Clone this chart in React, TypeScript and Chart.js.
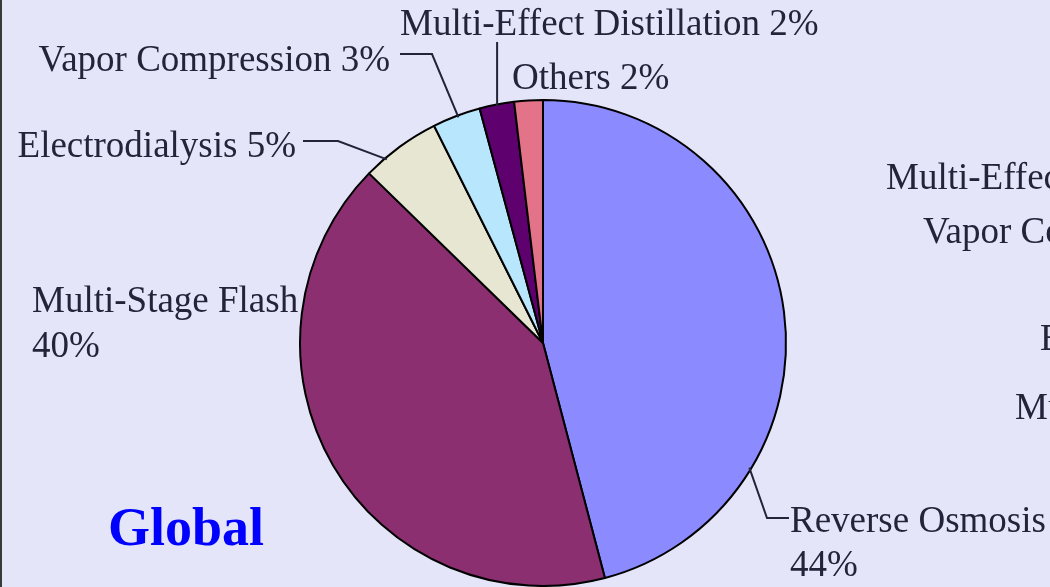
import React, { useEffect, useRef } from "react";
import { Chart, registerables } from "chart.js";

Chart.register(...registerables);

const categories = [
  "Reverse Osmosis",
  "Multi-Stage Flash",
  "Electrodialysis",
  "Vapor Compression",
  "Multi-Effect Distillation",
  "Others",
];
const shares = [45.9, 41.4, 5.3, 3.2, 2.3, 1.9];
const shareLabels = ["44%", "40%", "5%", "3%", "2%", "2%"];
const sliceColors = ["#8B8BFF", "#8B2F70", "#E6E6D2", "#B8E6FC", "#5E006E", "#E37388"];
const otherChartLabels = [
  "Multi-Effect Distillation",
  "Vapor Compression",
  "Electrodialysis",
  "Multi-Stage Flash",
];
const regionTitle = "Global";

const TEXT = "#23233a";
const FONT = '37px "Liberation Serif", "Times New Roman", serif';

const labelPlugin = {
  id: "labels",
  beforeDraw(chart: any) {
    const ctx = chart.ctx;
    ctx.save();
    ctx.fillStyle = "#E5E5FA";
    ctx.fillRect(0, 0, chart.width, chart.height);
    ctx.fillStyle = "#3a3a3a";
    ctx.fillRect(0, 0, 2, chart.height);
    ctx.restore();
  },
  afterDraw(chart: any) {
    const ctx = chart.ctx;
    const arcs = chart.getDatasetMeta(0).data;
    const anchor = (i: number, f: number) => {
      const a = arcs[i];
      const ang = a.startAngle + (a.endAngle - a.startAngle) * f;
      const r = a.outerRadius - 2;
      return [a.x + Math.cos(ang) * r, a.y + Math.sin(ang) * r];
    };
    ctx.save();
    ctx.strokeStyle = TEXT;
    ctx.lineWidth = 2;
    const poly = (pts: number[][]) => {
      ctx.beginPath();
      ctx.moveTo(pts[0][0], pts[0][1]);
      for (let k = 1; k < pts.length; k++) ctx.lineTo(pts[k][0], pts[k][1]);
      ctx.stroke();
    };
    poly([anchor(0, 0.733), [767, 518], [789, 518]]);
    poly([anchor(2, 0.28), [338, 141], [303, 141]]);
    poly([anchor(3, 0.53), [432, 54], [400, 54]]);
    const m = anchor(4, 0.5);
    poly([[m[0], m[1]], [m[0], 42]]);

    ctx.fillStyle = TEXT;
    ctx.font = FONT;
    ctx.textBaseline = "alphabetic";
    ctx.textAlign = "left";
    ctx.fillText(categories[0], 790, 532);
    ctx.fillText(shareLabels[0], 790, 576);
    ctx.fillText(categories[1], 32, 312);
    ctx.fillText(shareLabels[1], 32, 357);
    ctx.fillText(categories[4] + " " + shareLabels[4], 400, 35);
    ctx.fillText(categories[5] + " " + shareLabels[5], 512, 89);
    ctx.textAlign = "right";
    ctx.fillText(categories[2] + " " + shareLabels[2], 296, 157);
    ctx.fillText(categories[3] + " " + shareLabels[3], 390, 71);

    ctx.textAlign = "left";
    ctx.fillText(otherChartLabels[0], 886, 189);
    ctx.fillText(otherChartLabels[1], 923, 243);
    ctx.fillText(otherChartLabels[2], 1040, 350);
    ctx.fillText(otherChartLabels[3], 1015, 419);

    ctx.fillStyle = "#0000FF";
    ctx.font = 'bold 54px "Liberation Serif", "Times New Roman", serif';
    ctx.fillText(regionTitle, 108, 545);
    ctx.restore();
  },
};

export default function App() {
  const ref = useRef<HTMLCanvasElement | null>(null);
  useEffect(() => {
    if (!ref.current) return;
    const chart = new Chart(ref.current, {
      type: "pie",
      data: {
        labels: categories,
        datasets: [
          {
            data: shares,
            backgroundColor: sliceColors,
            borderColor: "#000000",
            borderWidth: 2,
          },
        ],
      },
      options: {
        responsive: false,
        animation: false,
        layout: { padding: { left: 299, right: 263, top: 99, bottom: 0 } },
        plugins: {
          legend: { display: false },
          tooltip: { enabled: false },
        },
      },
      plugins: [labelPlugin],
    });
    return () => chart.destroy();
  }, []);
  return (
    <div style={{ position: "fixed", left: 0, top: 0, width: 1050, height: 587 }}>
      <canvas ref={ref} width={1050} height={587} />
    </div>
  );
}
